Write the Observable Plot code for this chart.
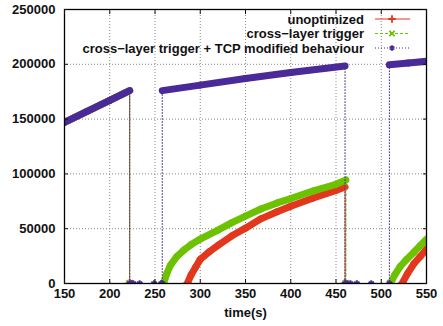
<!DOCTYPE html>
<html><head><meta charset="utf-8">
<script src="https://cdn.jsdelivr.net/npm/d3@7"></script>
<script src="https://cdn.jsdelivr.net/npm/@observablehq/plot@0.6"></script>
<style>
body{margin:0;background:#fff}
#chart{width:443px;height:326px}
</style>
</head><body><div id="chart"></div>
<script>
const seriesNames = ["unoptimized", "cross\u2212layer trigger", "cross\u2212layer trigger + TCP modified behaviour"];
const seriesColors = ["#e2371d", "#6cc200", "#4a2a99"];
const seriesDash = [null, "3,2", "1,2"];
const seriesSymbols = ["plus", "times", "asterisk"];

const xTicks = [150, 200, 250, 300, 350, 400, 450, 500, 550];
const yTicks = [0, 50000, 100000, 150000, 200000, 250000];

// unoptimized
const unoptT = [150, 175, 200, 222, 222, 285.6, 290, 295, 300, 310, 320, 335, 350, 367, 385, 400, 425, 450, 460, 460, 523, 529, 536, 543, 550];
const unoptV = [147000, 157000, 167000, 176000, 0, 0, 8000, 15000, 22000, 29000, 35000, 43500, 50500, 59000, 65500, 70500, 78000, 85000, 88000, 0, 0, 9000, 18000, 24500, 31500];

// cross-layer trigger
const crossT = [150, 175, 200, 222, 222, 259.5, 263, 267, 274, 282, 290, 300, 319, 335, 350, 367, 385, 400, 425, 450, 461, 461, 510, 515, 521, 528, 536, 543, 550];
const crossV = [147000, 157000, 167000, 176000, 0, 0, 9000, 16500, 24500, 30500, 35500, 40500, 48500, 55500, 61500, 68000, 73500, 77500, 84500, 90500, 94500, 0, 0, 8000, 15500, 22000, 28500, 34500, 40500];

// cross-layer trigger + TCP modified behaviour
const tcpT = [150, 175, 200, 222, 222, 224, 226, 233, 249, 257, 258, 258, 300, 350, 400, 460, 460, 462, 466, 473, 489, 509, 509, 530, 550];
const tcpV = [147000, 157000, 167000, 176000, 0, 0, 0, 0, 0, 0, 0, 176000, 181000, 187000, 192500, 198500, 0, 0, 0, 0, 0, 0, 199500, 201200, 202700];

const series = [[unoptT, unoptV], [crossT, crossV], [tcpT, tcpV]];

const marks = [
  Plot.gridX(xTicks.slice(1, -1), {stroke: "#888", strokeOpacity: 1, strokeDasharray: "1,2"}),
  Plot.gridY(yTicks.slice(1, -1), {stroke: "#888", strokeOpacity: 1, strokeDasharray: "1,2"})
];

series.forEach(([ts, vs], i) => {
  const pts = ts.map((t, j) => ({t, v: vs[j]}));
  const segs = [];
  for (let j = 0; j + 1 < pts.length; j++) {
    const a = pts[j], b = pts[j + 1];
    if (a.t !== b.t && !(a.v === 0 && b.v === 0)) segs.push({t1: a.t, v1: a.v, t2: b.t, v2: b.v});
  }
  marks.push(
    Plot.line(pts, {x: "t", y: "v", stroke: seriesColors[i], strokeWidth: 1, strokeDasharray: seriesDash[i], clip: true}),
    Plot.link(segs, {x1: "t1", y1: "v1", x2: "t2", y2: "v2", stroke: seriesColors[i], strokeWidth: 7, strokeLinecap: "round", clip: true}),
    Plot.dot(pts.filter(p => p.v === 0), {x: "t", y: "v", stroke: seriesColors[i], symbol: seriesSymbols[i], r: 3, strokeWidth: 2, clip: true})
  );
});

marks.push(
  Plot.frame({stroke: "#000", strokeWidth: 1.3}),
  Plot.axisX(xTicks, {anchor: "bottom", tickSize: 0, tickPadding: 5, label: "time(s)", labelAnchor: "center", labelArrow: "none", labelOffset: 33}),
  Plot.axisY(yTicks, {anchor: "left", tickSize: 0, tickPadding: 9, label: null, tickFormat: d => String(d)}),
  Plot.axisX(xTicks, {anchor: "bottom", tickSize: -4, tickFormat: () => "", label: null}),
  Plot.axisX(xTicks, {anchor: "top", tickSize: -4, tickFormat: () => "", label: null}),
  Plot.axisY(yTicks, {anchor: "left", tickSize: -4, tickFormat: () => "", label: null}),
  Plot.axisY(yTicks, {anchor: "right", tickSize: -4, tickFormat: () => "", label: null})
);

const chart = Plot.plot({
  width: 443,
  height: 326,
  marginLeft: 64,
  marginRight: 17,
  marginTop: 9,
  marginBottom: 43,
  style: {fontFamily: "'Liberation Sans', Arial, sans-serif", fontSize: "13px", fontWeight: "bold", color: "#111", background: "#fff"},
  x: {domain: [150, 550]},
  y: {domain: [0, 250000]},
  marks
});
document.getElementById("chart").appendChild(chart);

// legend inside the plot area, top right (drawn into the same SVG)
const leg = d3.select(chart).append("g")
  .attr("font-family", "'Liberation Sans', Arial, sans-serif").attr("font-size", "13px").attr("font-weight", "bold");
const d3Symbols = [d3.symbolPlus, d3.symbolTimes, d3.symbolAsterisk];
const rowY = [19, 33.5, 48];
seriesNames.forEach((name, i) => {
  const g = leg.append("g").attr("transform", `translate(0,${rowY[i]})`);
  g.append("text").attr("x", 364).attr("y", 0).attr("dy", "0.35em").attr("text-anchor", "end").attr("fill", "#111").text(name);
  g.append("line").attr("x1", 375).attr("x2", 410).attr("y1", 0).attr("y2", 0)
    .attr("stroke", seriesColors[i]).attr("stroke-width", 1.2).attr("stroke-dasharray", seriesDash[i]);
  g.append("path").attr("d", d3.symbol(d3Symbols[i], 20)()).attr("transform", "translate(392,0)")
    .attr("stroke", seriesColors[i]).attr("stroke-width", 1.8).attr("fill", seriesColors[i]);
});
</script>
</body></html>
